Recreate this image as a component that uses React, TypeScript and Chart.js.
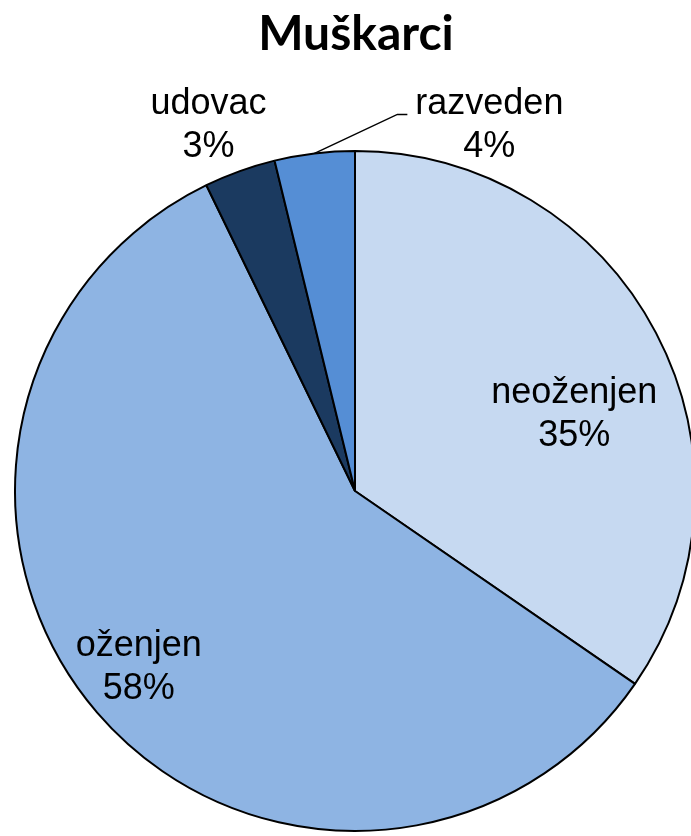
import React, { useEffect, useRef } from "react";
import { Chart, registerables } from "chart.js";

Chart.register(...registerables);

const titleText = "Muškarci";
const categories = ["neoženjen", "oženjen", "udovac", "razveden"];
const values = [34.6, 58.2, 3.4, 3.8];
const percentLabels = ["35%", "58%", "3%", "4%"];
const colors = ["#C6D9F1", "#8EB4E3", "#1B3A60", "#558ED5"];

// label anchor placement (polar: degrees clockwise from top, fraction of radius)
const labelAngles = [73.1, 229.2, 337.6, 20.7];
const labelRadii = [0.674, 0.84, 1.131, 1.118];

const labelPlugin = {
  id: "pieLabels",
  afterDraw(chart: any) {
    const ctx = chart.ctx;
    const meta = chart.getDatasetMeta(0);
    const arc0 = meta.data[0];
    const cx = arc0.x;
    const cy = arc0.y;
    const r = arc0.outerRadius;
    ctx.save();
    // title
    ctx.fillStyle = "#000";
    ctx.textAlign = "center";
    ctx.textBaseline = "alphabetic";
    ctx.font = "bold 48px Lato";
    ctx.fillText(titleText, cx + 1, 50);

    ctx.font = "36px 'Liberation Sans', Arial, sans-serif";
    categories.forEach((c, i) => {
      const a = (labelAngles[i] * Math.PI) / 180;
      const x = cx + Math.sin(a) * r * labelRadii[i];
      const y = cy - Math.cos(a) * r * labelRadii[i];
      ctx.fillText(c, x, y - 21.5);
      ctx.fillText(percentLabels[i], x, y + 21.5);
    });

    // leader line for razveden (last slice)
    const arc = meta.data[3];
    const mid = (arc.startAngle + arc.endAngle) / 2;
    const sx = cx + Math.cos(mid) * r;
    const sy = cy + Math.sin(mid) * r;
    const la = (labelAngles[3] * Math.PI) / 180;
    const lx = cx + Math.sin(la) * r * labelRadii[3];
    const ly = cy - Math.cos(la) * r * labelRadii[3];
    ctx.strokeStyle = "#000";
    ctx.lineWidth = 1.5;
    ctx.beginPath();
    ctx.moveTo(sx, sy);
    ctx.lineTo(lx - 92, ly - 21);
    ctx.lineTo(lx - 82, ly - 21);
    ctx.stroke();
    ctx.restore();
  },
};

export default function App() {
  const ref = useRef<HTMLCanvasElement>(null);
  useEffect(() => {
    document.body.style.margin = "0";
    const chart = new Chart(ref.current!, {
      type: "pie",
      data: {
        labels: categories,
        datasets: [
          {
            data: values,
            backgroundColor: colors,
            borderColor: "#000",
            borderWidth: 2,
          },
        ],
      },
      options: {
        animation: false,
        responsive: false,
        maintainAspectRatio: false,
        layout: { padding: { top: 150, bottom: 4, left: 0, right: 0 } },
        plugins: {
          legend: { display: false },
          title: { display: false },
          tooltip: { enabled: false },
        },
      },
      plugins: [labelPlugin],
    });
    return () => chart.destroy();
  }, []);
  return (
    <div
      style={{
        position: "fixed",
        left: 0,
        top: 0,
        width: 691,
        height: 836,
        overflow: "hidden",
        background: "#fff",
      }}
    >
      <canvas ref={ref} width={710} height={836} style={{ width: 710, height: 836 }} />
    </div>
  );
}
